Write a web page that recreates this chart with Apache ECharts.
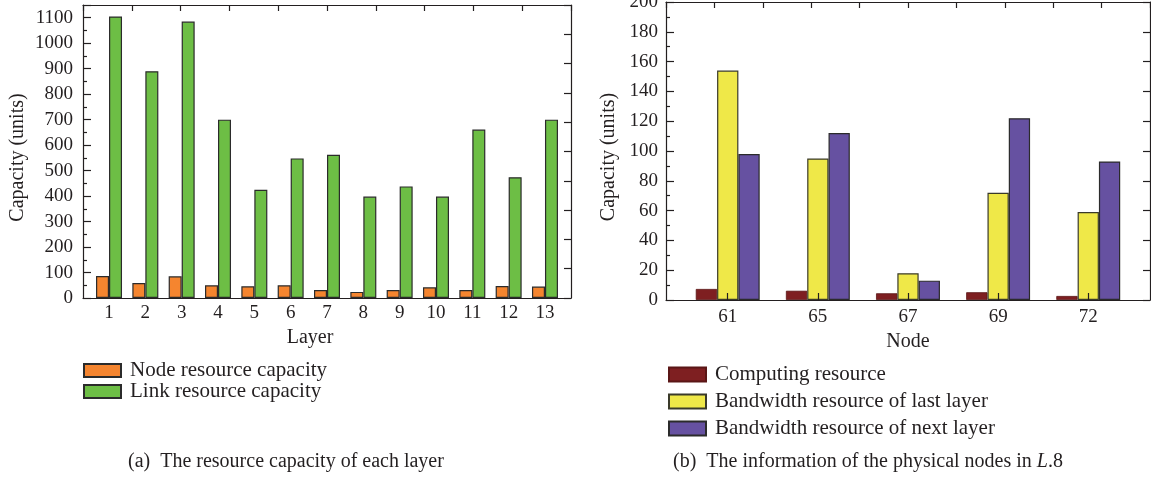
<!DOCTYPE html>
<html>
<head>
<meta charset="utf-8">
<script src="https://cdn.jsdelivr.net/npm/echarts@6/dist/echarts.min.js"></script>
<style>html,body{margin:0;padding:0;background:#fff}#c{width:1151px;height:483px}</style>
</head>
<body>
<div id="c"></div>
<script>
// ---- data (a) ----
const layers = ['1','2','3','4','5','6','7','8','9','10','11','12','13'];
const nodeCapacity = [86, 59, 85, 50, 46, 50, 31, 24, 31, 42, 31, 47, 45];
const linkCapacity = [1105, 890, 1085, 700, 425, 548, 562, 398, 438, 398, 661, 474, 700];
// ---- data (b) ----
const nodes = ['61', '65', '67', '69', '72'];
const computing = [7.4, 6.2, 4.5, 5.2, 2.7];
const bwLast = [154, 95, 18, 72, 59];
const bwNext = [98, 112, 13, 122, 93];

const FONT = 'Liberation Serif';
const INK = '#231F20';
const lineStyle = { color: INK, width: 1.2 };
const tickStyle = { color: INK, width: 1.2 };

function pairs(arr) { return arr.map((v, i) => [i + 1, v]); }
function idx(arr) { return arr.map((_, i) => i + 1); }

const chart = echarts.init(document.getElementById('c'), null, { renderer: 'canvas' });

const topAxis = (gi) => ({
  gridIndex: gi, type: 'value', position: 'top', min: 0, max: 10, interval: 1,
  axisLine: { show: true, onZero: false, lineStyle },
  axisTick: { show: true, inside: true, length: 6, lineStyle: tickStyle },
  axisLabel: { show: false }, splitLine: { show: false }
});
const rightAxis = (gi) => ({
  gridIndex: gi, type: 'value', position: 'right', min: 0, max: 10, interval: 1,
  axisLine: { show: true, onZero: false, lineStyle },
  axisTick: { show: true, inside: true, length: 7, lineStyle: tickStyle },
  axisLabel: { show: false }, splitLine: { show: false }
});

const option = {
  animation: false,
  backgroundColor: '#fff',
  textStyle: { fontFamily: FONT, color: INK },
  grid: [
    { left: 83, right: 580, top: 5, bottom: 185, outerBoundsMode: 'none', containLabel: false },
    { left: 666, right: 1, top: 2, bottom: 183, outerBoundsMode: 'none', containLabel: false }
  ],
  xAxis: [
    {
      gridIndex: 0, type: 'value', min: 0.284, max: 13.716,
      axisLine: { show: true, onZero: false, lineStyle },
      axisTick: { show: false },
      splitLine: { show: false },
      axisLabel: { customValues: idx(layers), formatter: v => layers[Math.round(v) - 1], margin: 6, fontSize: 19, color: INK, fontFamily: FONT },
      name: 'Layer', nameLocation: 'middle', nameGap: 26,
      nameTextStyle: { fontSize: 20, color: INK, fontFamily: FONT, padding: [0, 34, 0, 0] }
    },
    topAxis(0),
    {
      gridIndex: 1, type: 'value', min: 0.315, max: 5.685, z: 5,
      axisLine: { show: true, onZero: false, lineStyle },
      axisTick: { show: true, inside: true, length: 7, customValues: idx(nodes), lineStyle: tickStyle },
      splitLine: { show: false },
      axisLabel: { customValues: idx(nodes), formatter: v => nodes[Math.round(v) - 1], margin: 8, fontSize: 19, color: INK, fontFamily: FONT },
      name: 'Node', nameLocation: 'middle', nameGap: 31,
      nameTextStyle: { fontSize: 20, color: INK, fontFamily: FONT }
    },
    topAxis(1)
  ],
  yAxis: [
    {
      gridIndex: 0, type: 'value', min: 0, max: 1150, interval: 100,
      axisLine: { show: true, onZero: false, lineStyle },
      axisTick: { show: true, inside: true, length: 8, lineStyle: tickStyle },
      minorTick: { show: true, splitNumber: 2, length: 4, lineStyle: tickStyle },
      splitLine: { show: false },
      axisLabel: { showMaxLabel: false, formatter: v => String(v), margin: 10, fontSize: 19, color: INK, fontFamily: FONT },
      name: 'Capacity (units)', nameLocation: 'middle', nameGap: 55,
      nameTextStyle: { fontSize: 20, color: INK, fontFamily: FONT, padding: [0, 12, 0, 0] }
    },
    rightAxis(0),
    {
      gridIndex: 1, type: 'value', min: 0, max: 200, interval: 20,
      axisLine: { show: true, onZero: false, lineStyle },
      axisTick: { show: true, inside: true, length: 8, lineStyle: tickStyle },
      minorTick: { show: true, splitNumber: 2, length: 4, lineStyle: tickStyle },
      splitLine: { show: false },
      axisLabel: { formatter: v => String(v), margin: 8, fontSize: 19, color: INK, fontFamily: FONT },
      name: 'Capacity (units)', nameLocation: 'middle', nameGap: 47,
      nameTextStyle: { fontSize: 20, color: INK, fontFamily: FONT, padding: [0, 12, 0, 0] }
    },
    rightAxis(1)
  ],
  legend: [
    {
      data: ['Node resource capacity', 'Link resource capacity'],
      orient: 'vertical', left: 78, top: 355, itemWidth: 37, itemHeight: 13, itemGap: 0,
      icon: 'rect', textStyle: { fontSize: 21, color: INK, fontFamily: FONT, padding: [0, 0, 0, 4] }
    },
    {
      data: ['Computing resource', 'Bandwidth resource of last layer', 'Bandwidth resource of next layer'],
      orient: 'vertical', left: 663, top: 359, itemWidth: 37, itemHeight: 14, itemGap: 6,
      icon: 'rect', textStyle: { fontSize: 21, color: INK, fontFamily: FONT, padding: [0, 0, 0, 4] }
    }
  ],
  title: [
    { text: '(a)  The resource capacity of each layer', left: 123, top: 447,
      textStyle: { fontSize: 20, fontWeight: 'normal', color: INK, fontFamily: FONT } },
    { text: '(b)  The information of the physical nodes in {i|L}.8', left: 668, top: 447,
      textStyle: { fontSize: 20, fontWeight: 'normal', color: INK, fontFamily: FONT,
        rich: { i: { fontStyle: 'italic', fontSize: 20, fontFamily: FONT, color: INK } } } }
  ],
  series: [
    { name: 'Node resource capacity', type: 'bar', xAxisIndex: 0, yAxisIndex: 0, barWidth: 13, barGap: '0%',
      itemStyle: { color: '#F5852F', borderColor: '#2b2b2b', borderWidth: 1.2 }, data: pairs(nodeCapacity) },
    { name: 'Link resource capacity', type: 'bar', xAxisIndex: 0, yAxisIndex: 0, barWidth: 13, barGap: '0%',
      itemStyle: { color: '#6DBE45', borderColor: '#2b2b2b', borderWidth: 1.2 }, data: pairs(linkCapacity) },
    { name: 'Computing resource', type: 'bar', xAxisIndex: 2, yAxisIndex: 2, barWidth: 21.3, barGap: '0%',
      itemStyle: { color: '#7E1F21', borderColor: '#5a1616', borderWidth: 0.8 }, data: pairs(computing) },
    { name: 'Bandwidth resource of last layer', type: 'bar', xAxisIndex: 2, yAxisIndex: 2, barWidth: 21.3, barGap: '0%',
      itemStyle: { color: '#EFE848', borderColor: '#3a3a2a', borderWidth: 1.2 }, data: pairs(bwLast) },
    { name: 'Bandwidth resource of next layer', type: 'bar', xAxisIndex: 2, yAxisIndex: 2, barWidth: 21.3, barGap: '0%',
      itemStyle: { color: '#6651A1', borderColor: '#2b2b2b', borderWidth: 1.2 }, data: pairs(bwNext) }
  ]
};
chart.setOption(option);
</script>
</body>
</html>
